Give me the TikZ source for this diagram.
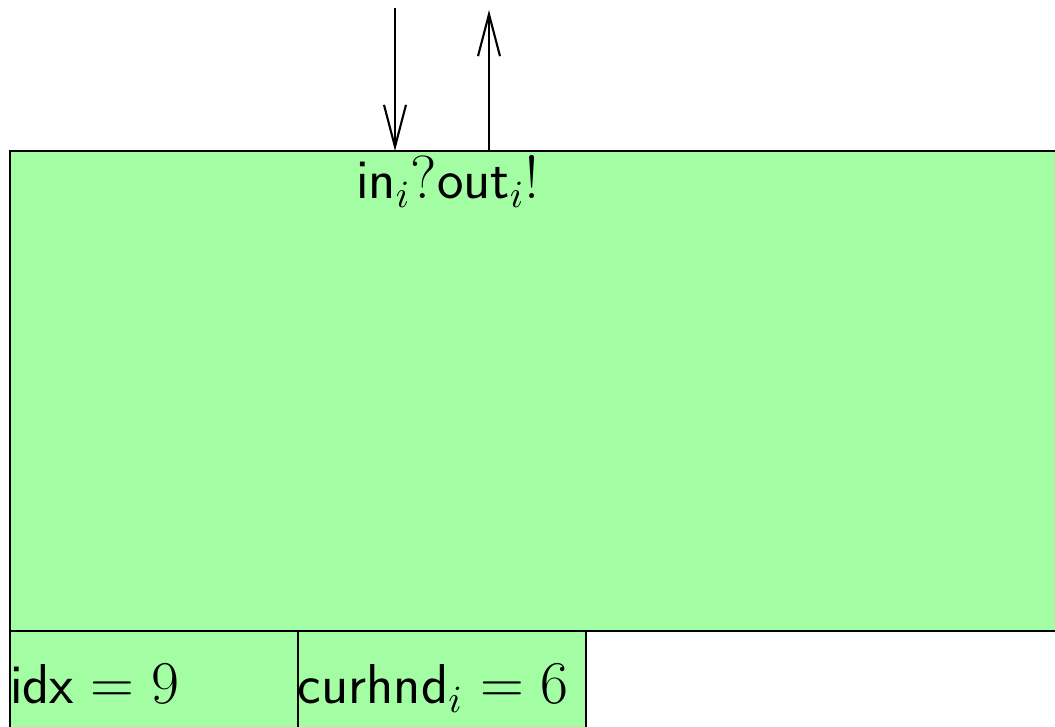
\documentclass[tikz,border=0pt]{standalone}
\usetikzlibrary{arrows.meta}
\definecolor{procGreen}{HTML}{A3FEA3}
\tikzset{
  proc diagram/.style={
    line width=0.6pt,
    >={Straight Barb[length=4.2mm,width=2.2mm]},
    every node/.style={font=\fontsize{16}{19}\selectfont\sffamily,
      text=black, inner sep=0pt, outer sep=0pt}
  },
  proc box/.style={draw=black, fill=procGreen, rectangle, anchor=north west},
  proc label/.style={anchor=base west}
}

\begin{document}
\begin{tikzpicture}[proc diagram,x=1cm,y=-1cm]
    \useasboundingbox (0,0) rectangle (10.55,7.26);
    % process and its state fields
    \node[proc box,minimum width=10.8cm,minimum height=4.8cm] (proc) at (0.10,1.51) {};
    \node[proc box,minimum width=2.88cm,minimum height=1.2cm] (idxbox) at (0.10,6.31) {};
    \node[proc box,minimum width=2.88cm,minimum height=1.2cm] (hndbox) at (2.98,6.31) {};
    \node[anchor=base] (chan) at (4.48,1.98) {$\textsf{in}_i?\textsf{out}_i!$};
    \node[proc label] (idx) at (0.10,7.03) {idx${}=9$};
    \node[proc label] (curhnd) at (2.98,7.03) {curhnd$_i=6$};
    % channels
    \coordinate (inEnd) at (3.95,0.08);
    \coordinate (outEnd) at (4.89,0.10);
    \draw[->] (inEnd) -- (inEnd |- proc.north);
    \draw[->] (outEnd |- proc.north) -- (outEnd);
  \end{tikzpicture}
\end{document}
